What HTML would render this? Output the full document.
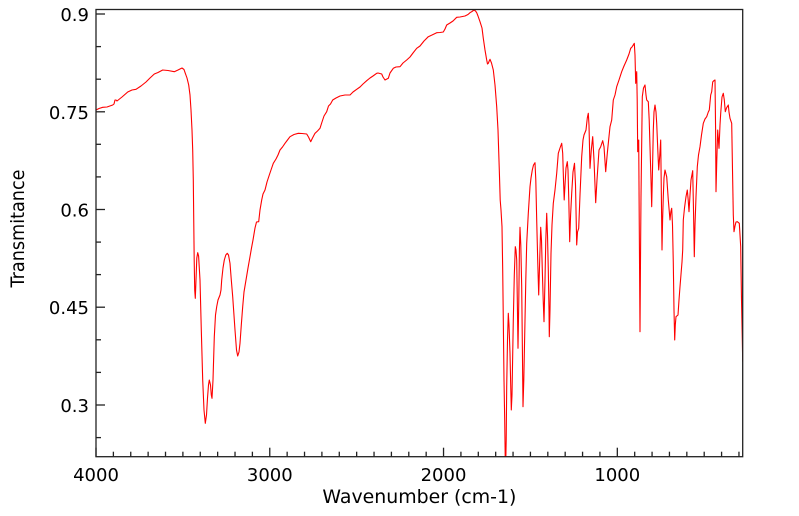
<!DOCTYPE html>
<html>
<head>
<meta charset="utf-8">
<style>
html,body{margin:0;padding:0;background:#fff;}
svg{display:block;}
text{font-family:"DejaVu Sans","Liberation Sans",sans-serif;fill:#000;}
</style>
</head>
<body>
<svg width="799" height="516" viewBox="0 0 799 516" xmlns="http://www.w3.org/2000/svg">
<rect x="0" y="0" width="799" height="516" fill="#fff"/>
<defs>
<clipPath id="pc"><rect x="96" y="9.5" width="646.7" height="447.2"/></clipPath>
</defs>

<path clip-path="url(#pc)" fill="none" stroke="#ff0000" stroke-width="1.1" stroke-linejoin="round" d="
M96,110 L99,108.5 L102.7,107.3 L107,107 L112.7,105 L114,104 L115,100 L116,100 L117,101 L122,97 L127.7,92 L132,90 L136,89.3 L141,86 L146,82 L150,78 L154.3,74 L158,72.5 L162.7,70 L168,70.5 L174.3,71.7 L178,70 L182,68 L184,69.5 L185.3,73.3 L187,78 L188.7,85 L190,95 L191,110 L192,130 L192.7,150 L193.3,180 L193.7,216.7 L194.2,260 L194.7,290 L195.3,298.3 L196,280 L196.8,258 L197.7,252.7 L198.6,256 L200,280 L201.3,330 L202.7,380 L204,410 L205.3,423.3 L206.5,415 L207.5,398 L208.5,385 L209.3,380 L210.5,385 L211.3,395 L212,398.3 L213,380 L214.3,336.7 L215.5,315 L216.7,306.7 L218,300 L220,295 L221,290 L221.7,280 L223,268 L224.3,260 L225.8,255 L227.3,253.3 L228.5,255 L230,263.3 L231.3,280 L232.7,296.7 L235,330 L236.5,350 L237.7,356 L239,352 L240,343.3 L241.3,325 L242.7,306.7 L244,292 L246,280 L248,268 L250,256.7 L251.5,248 L253,240 L255,228 L256.5,222 L258.7,221.7 L260,210 L261.7,200 L263,194 L265,190 L267,182 L269.3,175 L271,170 L273.3,163.3 L276,159 L278,155 L280,150 L282.5,147 L285,143.3 L287.5,140 L290,136.7 L294,134.5 L298.3,133.3 L302,133.5 L306.7,134 L308.5,137 L310.7,141.7 L312.5,138 L315,133.3 L317.5,131 L320,128.3 L322,122 L324,116 L326.7,111.7 L328.5,106 L330.5,104 L332.7,100 L336,98 L340,96 L345,95 L350,95 L353,92 L356.7,89.3 L360,87 L363,84 L366.7,80.7 L370,78 L373,76 L376.7,73.3 L378,73 L381.7,74 L383,77 L385,80 L388.3,78.3 L390,73 L393.3,68.3 L396,67 L400,66.7 L403,63 L406.7,60 L410,57 L413,53 L416.7,48.3 L420,46 L424,41 L428.3,36.7 L432,35 L436.7,32.7 L440,32.5 L443.3,32 L445,29 L446.7,25 L450,23 L453,21 L456.7,17.3 L460,17 L465,16 L468,14.5 L470,12.7 L472,11.5 L474,10 L475.5,11 L476.7,12.7 L478,16 L480,21.7 L482,28 L483.3,38.3 L485,50 L486.7,60 L487.5,64 L488.3,63.3 L489.2,61 L490,59.3 L491.5,63 L493.3,70 L495,85 L496.7,106.7 L498,130 L499.3,170 L500.2,200 L501,210 L502,226.7 L502.7,270 L503.3,320 L504,380 L504.7,420 L505.2,456.7 L505.6,470 L506.2,440 L506.7,386.7 L507.5,340 L508.3,313.3 L509,325 L510,353.3 L510.7,385 L511.3,410 L512,395 L513.3,320 L514.3,275 L515.3,246.7 L516,250 L516.7,260 L517.3,300 L518,348.3 L518.8,300 L519.4,250 L520,227.3 L520.8,245 L521.7,286.7 L522.4,350 L523,406.7 L523.8,380 L525,320 L525.8,280 L526.7,243.3 L528.3,213.3 L530,186.7 L531,178 L532.3,170 L533.5,165 L535,162.7 L535.8,180 L536.7,220 L537.7,260 L538.7,295 L539.7,260 L540.7,227.3 L541.5,240 L542.3,270 L543.2,300 L544,321.7 L545,280 L545.8,240 L546.7,213.3 L547.5,235 L548.3,270 L549,310 L549.3,336.7 L550,310 L551,253.3 L552,225 L553.3,203.3 L555,190 L556.7,173.3 L558.3,153.3 L560,148 L561.7,143.3 L562.7,153.3 L563.5,180 L564.2,200 L565,185 L566,168 L567.3,161.7 L568,170 L568.8,200 L569.7,241.7 L570.6,215 L571.7,193.3 L573,172 L574.5,163.3 L575.5,185 L576.7,245 L577.5,232 L578.7,228.3 L580,195 L581.7,156.7 L583,140 L584,135 L586,130 L587.3,118 L588.3,113.3 L589,125 L590,168.3 L591.3,150 L592.7,136.7 L594,160 L595.7,202.7 L597,180 L599,150 L600.7,146.7 L602.7,140.7 L604,146.7 L605.7,171.7 L607.3,153.3 L608.3,143.3 L610,126.7 L611.7,120 L613.3,100 L615,95 L616.7,86.7 L619,80 L621.7,71.7 L624,66 L626.7,60 L629,54 L630.7,48.3 L632,47 L634.3,43.3 L635,55 L635.7,83.3 L636.7,71.7 L637.2,100 L637.7,151.7 L638.7,140 L639.3,230 L640,331.7 L640.5,260 L641,196.7 L642.3,96.7 L643.5,88 L645,85 L646,95 L646.7,100 L648.3,101.7 L649.2,120 L650,146.7 L651,180 L651.7,206.7 L652.5,170 L653.3,130 L654,112 L655,105 L656,112 L656.7,123.3 L657.8,150 L658.7,170 L659.8,155 L660.7,140 L661.3,190 L662,250 L662.6,220 L663.3,196.7 L664,178 L665,170 L666.7,176.7 L668.3,200 L670,220 L670.8,212 L671.7,208.3 L672.5,225 L673.3,263.3 L674,310 L674.7,340 L675.3,325 L676,316.7 L678,315 L679,300 L680,286.7 L682,262 L682.7,250 L683.3,220 L684.5,208 L686,196.7 L687.3,190 L688.2,200 L689,211.7 L690,195 L691,180 L692.7,170.7 L693.5,210 L694.3,256.7 L695,225 L696,196.7 L697.3,166.7 L698.5,155 L700,146.7 L701.5,135 L703.3,123.3 L705,119 L706.7,116.7 L708.3,112 L709.3,110 L710.7,95 L711.7,91.7 L712.7,82 L713.5,81 L715,80 L715.6,130 L716,191.7 L716.8,160 L717.7,130 L719,148.3 L720,125 L720.7,113.3 L722,97 L723.3,93.3 L724.3,100 L725.3,111.7 L726.5,108 L728.3,105 L729,112 L730,118.3 L731.7,123.3 L732.5,170 L733.3,215 L734,231.7 L735,226 L736,222 L737.3,221.7 L739.3,223.3 L740.7,246.7 L741.5,300 L742.3,340 L742.7,361.7"/>

<!-- frame -->
<rect x="96" y="9.5" width="646.7" height="447.2" fill="none" stroke="#222" stroke-width="1.3"/>

<!-- x ticks -->
<g stroke="#222" stroke-width="1.3">
<line x1="96" y1="456.7" x2="96" y2="447.7"/>
<line x1="113.38" y1="456.7" x2="113.38" y2="451.7"/>
<line x1="130.75" y1="456.7" x2="130.75" y2="451.7"/>
<line x1="148.13" y1="456.7" x2="148.13" y2="451.7"/>
<line x1="165.51" y1="456.7" x2="165.51" y2="451.7"/>
<line x1="182.89" y1="456.7" x2="182.89" y2="451.7"/>
<line x1="200.26" y1="456.7" x2="200.26" y2="451.7"/>
<line x1="217.64" y1="456.7" x2="217.64" y2="451.7"/>
<line x1="235.02" y1="456.7" x2="235.02" y2="451.7"/>
<line x1="252.39" y1="456.7" x2="252.39" y2="451.7"/>
<line x1="269.77" y1="456.7" x2="269.77" y2="447.7"/>
<line x1="287.15" y1="456.7" x2="287.15" y2="451.7"/>
<line x1="304.53" y1="456.7" x2="304.53" y2="451.7"/>
<line x1="321.90" y1="456.7" x2="321.90" y2="451.7"/>
<line x1="339.28" y1="456.7" x2="339.28" y2="451.7"/>
<line x1="356.66" y1="456.7" x2="356.66" y2="451.7"/>
<line x1="374.04" y1="456.7" x2="374.04" y2="451.7"/>
<line x1="391.41" y1="456.7" x2="391.41" y2="451.7"/>
<line x1="408.79" y1="456.7" x2="408.79" y2="451.7"/>
<line x1="426.17" y1="456.7" x2="426.17" y2="451.7"/>
<line x1="443.54" y1="456.7" x2="443.54" y2="447.7"/>
<line x1="460.92" y1="456.7" x2="460.92" y2="451.7"/>
<line x1="478.30" y1="456.7" x2="478.30" y2="451.7"/>
<line x1="495.68" y1="456.7" x2="495.68" y2="451.7"/>
<line x1="513.05" y1="456.7" x2="513.05" y2="451.7"/>
<line x1="530.43" y1="456.7" x2="530.43" y2="451.7"/>
<line x1="547.81" y1="456.7" x2="547.81" y2="451.7"/>
<line x1="565.18" y1="456.7" x2="565.18" y2="451.7"/>
<line x1="582.56" y1="456.7" x2="582.56" y2="451.7"/>
<line x1="599.94" y1="456.7" x2="599.94" y2="451.7"/>
<line x1="617.32" y1="456.7" x2="617.32" y2="447.7"/>
<line x1="634.69" y1="456.7" x2="634.69" y2="451.7"/>
<line x1="652.07" y1="456.7" x2="652.07" y2="451.7"/>
<line x1="669.45" y1="456.7" x2="669.45" y2="451.7"/>
<line x1="686.83" y1="456.7" x2="686.83" y2="451.7"/>
<line x1="704.20" y1="456.7" x2="704.20" y2="451.7"/>
<line x1="721.58" y1="456.7" x2="721.58" y2="451.7"/>
<line x1="738.96" y1="456.7" x2="738.96" y2="451.7"/>
</g>

<!-- y ticks -->
<g stroke="#222" stroke-width="1.3">
<line x1="96" y1="14" x2="105" y2="14"/>
<line x1="96" y1="46.6" x2="101" y2="46.6"/>
<line x1="96" y1="79.2" x2="101" y2="79.2"/>
<line x1="96" y1="111.8" x2="105" y2="111.8"/>
<line x1="96" y1="144.3" x2="101" y2="144.3"/>
<line x1="96" y1="176.9" x2="101" y2="176.9"/>
<line x1="96" y1="209.5" x2="105" y2="209.5"/>
<line x1="96" y1="242.1" x2="101" y2="242.1"/>
<line x1="96" y1="274.6" x2="101" y2="274.6"/>
<line x1="96" y1="307.2" x2="105" y2="307.2"/>
<line x1="96" y1="339.8" x2="101" y2="339.8"/>
<line x1="96" y1="372.4" x2="101" y2="372.4"/>
<line x1="96" y1="405" x2="105" y2="405"/>
<line x1="96" y1="437.6" x2="101" y2="437.6"/>
</g>

<!-- y tick labels -->
<g font-size="18" text-anchor="end">
<text x="89" y="21">0.9</text>
<text x="89" y="118.8">0.75</text>
<text x="89" y="216.5">0.6</text>
<text x="89" y="314.2">0.45</text>
<text x="89" y="412">0.3</text>
</g>

<!-- x tick labels -->
<g font-size="18" text-anchor="middle">
<text x="96" y="481">4000</text>
<text x="269.8" y="481">3000</text>
<text x="443.5" y="481">2000</text>
<text x="617.3" y="481">1000</text>
</g>

<!-- axis labels -->
<text x="419.4" y="503" font-size="19" text-anchor="middle" textLength="194" lengthAdjust="spacingAndGlyphs">Wavenumber (cm-1)</text>
<text transform="translate(24,228.5) rotate(-90)" font-size="19" text-anchor="middle" textLength="118" lengthAdjust="spacingAndGlyphs">Transmitance</text>
</svg>
</body>
</html>
